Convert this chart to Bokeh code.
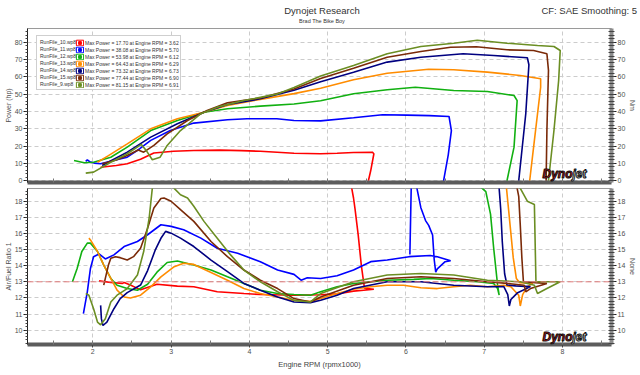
from bokeh.plotting import figure
from bokeh.models import (Range1d, LinearAxis, Span, Legend, LegendItem, Label,
                          SingleIntervalTicker, Div)
from bokeh.layouts import column
from bokeh.embed import file_html
from bokeh.resources import INLINE

FONT = "Liberation Sans"

# ---------------- data ----------------
chart_title = "Dynojet Research"
chart_subtitle = "Brad The Bike Boy"
chart_note = "CF: SAE Smoothing: 5"

run_names = ["RunFile_10.wp8", "RunFile_11.wp8", "RunFile_12.wp8", "RunFile_13.wp8",
             "RunFile_14.wp8", "RunFile_15.wp8", "RunFile_9.wp8"]
run_colors = ["#ff0000", "#0000ff", "#11b011", "#ff8c00", "#000080", "#7a2a08", "#6b8e23"]
max_power = [17.70, 38.08, 53.98, 64.43, 73.32, 77.44, 81.15]
max_power_rpm = [3.62, 5.70, 6.12, 6.29, 6.73, 6.90, 6.91]

# Power (hp) vs Engine RPM (x1000)
p10_rpm = [2.10, 2.30, 2.44, 2.61, 2.78, 3.03, 3.29, 3.62, 3.90, 4.14, 4.57, 4.91, 5.12, 5.33, 5.57, 5.59, 5.55, 5.52]
p10_hp = [7.8, 8.8, 9.8, 12.4, 16.0, 17.0, 17.5, 17.7, 17.4, 17.0, 15.9, 15.6, 15.9, 16.3, 16.5, 15.6, 5.9, 0.0]
p11_rpm = [1.91, 1.93, 1.96, 2.02, 2.10, 2.25, 2.44, 2.60, 2.74, 2.99, 3.29, 3.72, 3.97, 4.35, 4.57, 4.91, 5.33, 5.70, 6.01, 6.30, 6.55, 6.58, 6.54, 6.48]
p11_hp = [11.2, 12.1, 11.0, 10.2, 9.8, 11.5, 13.6, 18.5, 23.3, 29.0, 33.3, 35.2, 35.8, 35.8, 34.8, 34.6, 36.4, 38.1, 37.9, 37.6, 37.1, 29.0, 15.0, 0.0]
p12_rpm = [1.76, 1.89, 2.01, 2.23, 2.44, 2.74, 3.08, 3.42, 3.72, 4.14, 4.57, 4.91, 5.33, 5.76, 6.12, 6.61, 7.04, 7.38, 7.42, 7.38, 7.29]
p12_hp = [11.7, 10.4, 10.7, 13.6, 19.4, 29.0, 34.8, 39.6, 41.6, 43.1, 44.3, 46.2, 50.2, 52.5, 54.0, 52.1, 51.5, 49.2, 46.3, 19.4, 0.0]
p13_rpm = [2.06, 2.20, 2.44, 2.74, 3.08, 3.42, 3.72, 4.14, 4.57, 4.91, 5.33, 5.76, 6.29, 6.61, 7.04, 7.46, 7.72, 7.72, 7.63, 7.58]
p13_hp = [10.7, 14.5, 21.3, 30.0, 35.8, 39.6, 43.5, 47.0, 50.3, 53.4, 58.3, 62.1, 64.4, 64.1, 62.7, 60.8, 58.9, 54.0, 19.4, 0.0]
p14_rpm = [2.12, 2.25, 2.44, 2.74, 3.08, 3.42, 3.72, 4.14, 4.57, 4.91, 5.33, 5.76, 6.19, 6.73, 7.12, 7.55, 7.57, 7.53, 7.44]
p14_hp = [8.8, 12.0, 16.5, 25.2, 32.9, 39.6, 44.0, 47.3, 52.3, 57.2, 62.7, 68.5, 71.3, 73.3, 72.3, 71.0, 67.0, 38.7, 0.0]
p15_rpm = [2.12, 2.30, 2.44, 2.58, 2.65, 2.78, 2.95, 3.21, 3.46, 3.72, 4.14, 4.57, 4.91, 5.33, 5.76, 6.19, 6.57, 6.90, 7.29, 7.63, 7.80, 7.82, 7.80, 7.79]
p15_hp = [9.8, 12.0, 14.6, 17.8, 16.5, 20.4, 27.1, 34.8, 40.6, 45.0, 47.8, 53.0, 59.0, 65.0, 71.3, 74.6, 77.1, 77.4, 75.6, 75.2, 73.3, 63.7, 29.0, 0.0]
p9_rpm = [1.91, 2.01, 2.23, 2.44, 2.62, 2.69, 2.76, 2.86, 2.95, 3.12, 3.38, 3.59, 3.93, 4.35, 4.57, 4.91, 5.33, 5.76, 6.19, 6.61, 6.91, 7.29, 7.68, 7.89, 7.97, 7.95, 7.89, 7.82]
p9_hp = [4.4, 5.0, 10.7, 15.6, 21.0, 17.0, 12.1, 13.6, 20.4, 29.0, 38.7, 42.5, 46.3, 50.0, 53.8, 60.5, 66.5, 73.3, 77.5, 79.4, 81.1, 79.4, 78.1, 77.5, 75.2, 57.9, 29.0, 0.0]

# Air/Fuel Ratio vs Engine RPM (x1000)
a10_rpm = [2.08, 2.23, 2.38, 2.40, 2.48, 2.61, 2.82, 3.08, 3.29, 3.59, 3.93, 4.14, 4.57, 4.91, 5.12, 5.33, 5.46, 5.59, 5.47, 5.43, 5.39, 5.35, 5.33, 5.30, 5.20]
a10_afr = [13.06, 12.96, 12.90, 12.96, 12.80, 12.50, 12.85, 12.73, 12.69, 12.38, 12.27, 12.21, 12.17, 12.20, 12.25, 12.42, 12.48, 12.54, 12.60, 14.00, 15.90, 17.50, 18.20, 19.00, 19.20]
a11_rpm = [1.88, 1.93, 1.97, 2.01, 2.08, 2.16, 2.27, 2.40, 2.57, 2.70, 2.87, 3.00, 3.16, 3.38, 3.59, 3.85, 4.14, 4.36, 4.57, 4.66, 4.74, 4.91, 5.12, 5.33, 5.55, 5.76, 6.04, 6.31, 6.40, 6.57, 6.50, 6.40, 6.38, 6.36, 6.34, 6.29, 6.25, 6.19, 6.14, 6.10, 6.07, 6.05]
a11_afr = [11.02, 12.38, 13.83, 14.56, 14.73, 14.42, 14.67, 15.19, 15.50, 15.92, 16.54, 16.44, 16.23, 15.71, 15.08, 14.77, 14.25, 13.73, 13.46, 13.10, 13.25, 13.21, 13.38, 13.73, 14.25, 14.35, 14.56, 14.63, 14.56, 14.31, 14.25, 13.80, 13.60, 14.40, 15.90, 16.50, 16.80, 17.60, 18.80, 19.60, 19.60, 14.70]
a12_rpm = [1.74, 1.80, 1.86, 1.93, 1.97, 2.06, 2.14, 2.23, 2.31, 2.44, 2.57, 2.70, 2.82, 2.95, 3.08, 3.29, 3.51, 3.72, 3.93, 4.14, 4.36, 4.57, 4.78, 4.91, 5.12, 5.33, 5.76, 6.10, 6.31, 6.61, 6.91, 7.12, 7.17, 7.19, 7.17, 7.12, 7.08, 7.02, 6.95, 6.88]
a12_afr = [13.00, 13.83, 14.88, 15.40, 15.40, 14.88, 14.04, 13.21, 12.79, 12.58, 12.48, 12.85, 13.60, 14.20, 14.29, 14.04, 13.73, 13.31, 12.90, 12.48, 12.27, 12.21, 12.17, 12.38, 12.69, 12.90, 13.10, 13.15, 13.21, 13.10, 13.00, 12.90, 12.58, 12.17, 12.80, 15.10, 17.20, 18.60, 18.90, 19.50]
a13_rpm = [1.95, 1.97, 2.06, 2.14, 2.23, 2.31, 2.40, 2.48, 2.61, 2.74, 2.87, 3.04, 3.16, 3.29, 3.51, 3.72, 3.93, 4.14, 4.36, 4.57, 4.78, 4.91, 5.12, 5.33, 5.55, 5.76, 5.97, 6.19, 6.40, 6.61, 6.82, 7.04, 7.25, 7.34, 7.44, 7.46, 7.49, 7.55, 7.62, 7.45, 7.41, 7.37, 7.33, 7.30, 7.27]
a13_afr = [15.71, 15.60, 14.88, 14.04, 13.21, 12.48, 12.06, 12.00, 12.17, 12.69, 13.31, 13.94, 14.15, 14.08, 13.58, 13.10, 12.58, 12.27, 12.06, 11.85, 11.79, 11.96, 12.27, 12.54, 12.69, 12.79, 12.79, 12.63, 12.58, 12.69, 12.79, 12.69, 12.79, 12.69, 12.17, 11.50, 12.20, 12.70, 12.90, 12.95, 13.20, 14.50, 16.50, 18.00, 19.50]
a14_rpm = [2.10, 2.11, 2.13, 2.18, 2.27, 2.35, 2.44, 2.61, 2.70, 2.80, 2.87, 2.93, 3.00, 3.12, 3.29, 3.51, 3.72, 3.93, 4.14, 4.36, 4.57, 4.78, 4.91, 5.12, 5.33, 5.76, 6.19, 6.61, 7.04, 7.25, 7.30, 7.32, 7.34, 7.42, 7.59, 7.40, 7.29, 7.26, 7.23, 7.21, 7.19, 7.18]
a14_afr = [11.54, 10.70, 10.29, 10.50, 11.33, 11.96, 12.33, 12.80, 13.70, 15.00, 15.70, 16.13, 16.02, 15.71, 15.19, 14.35, 13.63, 12.90, 12.48, 12.06, 11.75, 11.71, 11.85, 12.17, 12.58, 13.00, 13.00, 12.79, 12.69, 12.70, 12.20, 11.50, 11.90, 12.30, 12.70, 12.75, 12.80, 13.50, 15.50, 17.50, 18.80, 19.50]
a15_rpm = [2.14, 2.16, 2.20, 2.23, 2.29, 2.35, 2.44, 2.52, 2.61, 2.70, 2.78, 2.87, 2.91, 3.00, 3.12, 3.29, 3.51, 3.72, 3.93, 4.14, 4.36, 4.57, 4.78, 4.91, 5.33, 5.76, 6.19, 6.61, 7.04, 7.29, 7.51, 7.53, 7.59, 7.80, 7.65, 7.50, 7.48, 7.46, 7.44, 7.42, 7.40]
a15_afr = [12.79, 13.21, 14.04, 14.46, 14.56, 14.50, 14.35, 14.56, 15.08, 16.33, 17.58, 18.17, 18.20, 18.00, 17.48, 16.75, 15.50, 14.56, 13.73, 13.10, 12.58, 11.96, 11.75, 12.06, 12.79, 13.21, 13.31, 13.21, 13.00, 12.90, 12.79, 12.38, 12.58, 12.90, 12.95, 13.00, 14.50, 16.50, 18.30, 18.80, 19.50]
a9_rpm = [1.91, 1.95, 2.01, 2.06, 2.10, 2.16, 2.23, 2.31, 2.44, 2.57, 2.65, 2.72, 2.76, 2.80, 2.90, 3.00, 3.04, 3.12, 3.21, 3.29, 3.42, 3.59, 3.76, 3.93, 4.14, 4.36, 4.57, 4.78, 4.91, 5.33, 5.76, 6.19, 6.61, 7.04, 7.46, 7.64, 7.68, 7.80, 7.97, 7.80, 7.66, 7.64, 7.55, 7.46, 7.40]
a9_afr = [12.27, 12.17, 11.33, 10.50, 10.33, 10.71, 11.75, 12.17, 12.58, 13.42, 14.88, 16.96, 18.80, 20.00, 20.50, 20.00, 18.80, 18.40, 18.20, 17.69, 16.75, 15.71, 14.67, 13.73, 13.00, 12.38, 11.85, 11.75, 12.27, 13.00, 13.42, 13.52, 13.42, 13.10, 13.00, 12.79, 12.27, 12.58, 13.00, 13.00, 13.00, 17.80, 18.00, 18.80, 19.50]

power_rpm = [p10_rpm, p11_rpm, p12_rpm, p13_rpm, p14_rpm, p15_rpm, p9_rpm]
power_hp = [p10_hp, p11_hp, p12_hp, p13_hp, p14_hp, p15_hp, p9_hp]
afr_rpm = [a10_rpm, a11_rpm, a12_rpm, a13_rpm, a14_rpm, a15_rpm, a9_rpm]
afr_val = [a10_afr, a11_afr, a12_afr, a13_afr, a14_afr, a15_afr, a9_afr]

target_afr = 13.0

# ---------------- layout constants ----------------
FW = 584
HEAD_H = 28
TOP_FH = 154
BOT_FH = 156
LEFT_B = 27
RIGHT_B = 29
TICK_COLOR = "#505050"

xr = Range1d(1.166, 8.625)


def base_fig(fh, yr, top_b, bottom_b):
    p = figure(frame_width=FW, frame_height=fh, x_range=xr, y_range=yr,
               output_backend="svg", toolbar_location=None,
               min_border_left=LEFT_B, min_border_right=RIGHT_B,
               min_border_top=top_b, min_border_bottom=bottom_b,
               background_fill_color="white", border_fill_color="white",
               outline_line_color="#9a9a9a", outline_line_width=1)
    p.xaxis.ticker = SingleIntervalTicker(interval=1, num_minor_ticks=2)
    p.xgrid.grid_line_color = "#cccccc"
    p.xgrid.grid_line_dash = "4 3"
    p.ygrid.grid_line_color = "#cccccc"
    p.ygrid.grid_line_dash = "4 3"
    ax = p.xaxis[0]
    ax.axis_line_color = "#5c5c5c"
    ax.axis_line_width = 4
    ax.major_tick_in = 0
    ax.major_tick_out = 3
    ax.major_tick_line_color = "#444444"
    ax.minor_tick_in = 4
    ax.minor_tick_out = 0
    ax.minor_tick_line_color = "#777777"
    ax.major_label_text_font = FONT
    ax.major_label_text_font_size = "7px"
    ax.major_label_text_color = TICK_COLOR
    ax.major_label_standoff = 1
    ax.axis_label_text_font = FONT
    ax.axis_label_text_font_size = "7.5px"
    ax.axis_label_text_font_style = "normal"
    ax.axis_label_text_color = "#444444"
    ax.axis_label_standoff = 3
    return p


def style_y(ax, label, interval, right=False):
    ax.ticker = SingleIntervalTicker(interval=interval, num_minor_ticks=5)
    ax.axis_label = label
    ax.axis_label_text_font = FONT
    ax.axis_label_text_font_size = "7px"
    ax.axis_label_text_font_style = "normal"
    ax.axis_label_text_color = "#505050"
    ax.major_label_text_font = FONT
    ax.major_label_text_font_size = "7px"
    ax.major_label_text_color = TICK_COLOR
    ax.major_label_standoff = 1
    ax.major_tick_in = 0
    ax.major_tick_line_color = "#222222"
    ax.minor_tick_line_color = "#444444"
    if right:
        ax.axis_label_standoff = 1
        ax.axis_line_color = "#8c8c8c"
        ax.axis_line_width = 4
        ax.major_tick_out = 5
        ax.minor_tick_out = 3
        ax.minor_tick_in = 3
    else:
        ax.axis_label_standoff = 0
        ax.axis_line_color = "#222222"
        ax.axis_line_width = 1
        ax.major_tick_out = 4
        ax.minor_tick_out = 2
        ax.minor_tick_in = 0


# ---------------- header strip with titles (HTML text) ----------------
head_html = (
    '<div style="position:relative;width:640px;height:%dpx;font-family:\'Liberation Sans\',Arial,sans-serif;'
    'color:#333333;line-height:1;">'
    '<div style="position:absolute;left:0;width:644px;top:6px;text-align:center;font-size:9.5px;">%s</div>'
    '<div style="position:absolute;left:0;width:644px;top:19px;text-align:center;font-size:5.5px;">%s</div>'
    '<div style="position:absolute;right:3px;top:6px;font-size:9.5px;white-space:nowrap;">%s</div>'
    '</div>' % (HEAD_H, chart_title, chart_subtitle, chart_note)
)
head = Div(text=head_html, width=640, height=HEAD_H, margin=0)

# ---------------- top: power ----------------
top = base_fig(TOP_FH, Range1d(-1.0, 87.9), 0, 4)
top.xaxis.major_label_text_color = None
top.xaxis.major_label_text_font_size = "1px"
top.xaxis.major_label_standoff = 0
top.xaxis.major_tick_out = 0
style_y(top.yaxis[0], "Power (hp)", 10)
rax = LinearAxis()
style_y(rax, "Nm", 10, right=True)
top.add_layout(rax, "right")

line_rs = []
for rpm, hp, c in zip(power_rpm, power_hp, run_colors):
    line_rs.append(top.line(rpm, hp, line_color=c, line_width=1.6))

box_rs = []
for mr, mp, c in zip(max_power_rpm, max_power, run_colors):
    q = top.quad(left=[mr], right=[mr], bottom=[mp], top=[mp], fill_color="white",
                 line_color=c, line_width=1, visible=False)
    s = top.scatter(x=[mr], y=[mp], marker="square", size=3, fill_color=c,
                    line_color=c, visible=False)
    box_rs.append([q, s])

leg_common = dict(glyph_height=7, label_height=7, spacing=0, padding=2, margin=0,
                  label_text_font=FONT, label_text_font_size="5px",
                  label_text_color="#333333")
leg1 = Legend(items=[LegendItem(label=n, renderers=[r]) for n, r in zip(run_names, line_rs)],
              location=(9, 92), glyph_width=0, label_standoff=1, label_width=138,
              border_line_color="#a0a0a0", background_fill_color="white",
              background_fill_alpha=1.0, **leg_common)
leg2 = Legend(items=[LegendItem(label="Max Power = %.2f at Engine RPM = %.2f" % (mp, mr), renderers=rs)
                     for mp, mr, rs in zip(max_power, max_power_rpm, box_rs)],
              location=(46, 92), glyph_width=9, label_standoff=1,
              border_line_alpha=0, background_fill_alpha=0, **leg_common)
top.add_layout(leg1)
top.add_layout(leg2)


def add_logo(p, y):
    kw = dict(x_units="screen", y_units="screen", text_baseline="middle",
              text_font=FONT, text_font_size="12px", text_font_style="bold italic")
    try:
        a = Label(x=515, y=y, text="Dyno", text_color="#d01010",
                  text_outline_color="#111111", **kw)
        b = Label(x=545, y=y, text="jet", text_color="white",
                  text_outline_color="#111111", **kw)
    except Exception:
        a = Label(x=515, y=y, text="Dyno", text_color="#d01010", **kw)
        b = Label(x=545, y=y, text="jet", text_color="#222222", **kw)
    p.add_layout(a)
    p.add_layout(b)


add_logo(top, 9)

# ---------------- bottom: AFR ----------------
bot = base_fig(BOT_FH, Range1d(9.11, 18.79), 2, 31)
bot.xaxis.axis_label = "Engine RPM (rpmx1000)"
style_y(bot.yaxis[0], "Air/Fuel Ratio 1", 1)
rax2 = LinearAxis()
style_y(rax2, "None", 1, right=True)
bot.add_layout(rax2, "right")

bot.add_layout(Span(location=target_afr, dimension="width", line_color="#e07a7a",
                    line_dash="6 3", line_width=1))
for rpm, afr, c in zip(afr_rpm, afr_val, run_colors):
    bot.line(rpm, afr, line_color=c, line_width=1.6)

add_logo(bot, 8)

layout = column(head, top, bot, spacing=0)
open("out.html", "w").write(file_html(layout, INLINE))
